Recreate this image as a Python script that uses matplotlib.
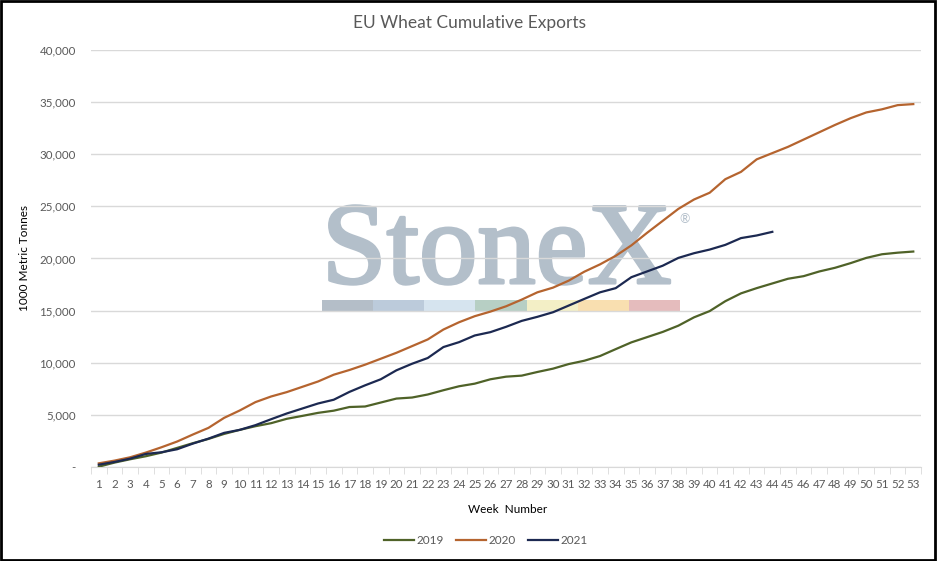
import matplotlib.pyplot as plt
import matplotlib.patheffects as pe
from matplotlib.patches import Rectangle
from matplotlib.ticker import FuncFormatter, MultipleLocator

plt.rcParams['font.family'] = ['Lato', 'DejaVu Sans']

weeks = list(range(1, 54))

exports_2019 = [30, 420, 740, 1030, 1380, 1830, 2280, 2690, 3170, 3560,
                3910, 4200, 4620, 4900, 5190, 5400, 5750, 5800, 6180, 6560,
                6660, 6950, 7360, 7740, 7990, 8410, 8660, 8760, 9110, 9430,
                9870, 10190, 10640, 11300, 11950, 12450, 12950, 13550, 14350, 14950,
                15900, 16650, 17150, 17600, 18050, 18300, 18750, 19100, 19550, 20050,
                20400, 20550, 20660]

exports_2020 = [350, 610, 930, 1380, 1890, 2440, 3110, 3750, 4710, 5420,
                6220, 6760, 7180, 7690, 8200, 8850, 9300, 9810, 10380, 10950,
                11590, 12230, 13180, 13880, 14460, 14900, 15410, 16050, 16750, 17200,
                17870, 18730, 19430, 20250, 21250, 22450, 23600, 24750, 25650, 26300,
                27600, 28300, 29500, 30100, 30700, 31400, 32100, 32800, 33450, 34000,
                34300, 34700, 34800]

exports_2021 = [220, 480, 800, 1250, 1410, 1700, 2240, 2720, 3270, 3560,
                4010, 4580, 5130, 5610, 6090, 6450, 7200, 7830, 8410, 9270,
                9900, 10450, 11500, 11970, 12610, 12930, 13440, 14010, 14400, 14840,
                15480, 16120, 16750, 17150, 18200, 18750, 19300, 20050, 20500, 20850,
                21300, 21950, 22200, 22550]

series = [("2019", exports_2019, "#4f6228"),
          ("2020", exports_2020, "#b5642f"),
          ("2021", exports_2021, "#1c2951")]

fig = plt.figure(figsize=(9.38, 5.61), dpi=100)
ax = fig.add_axes([0.097, 0.1676, 0.885, 0.7435])

# watermark behind the plot
wm = '#b3bfca'
ax.text(0.278, 0.441, "StoneX", transform=ax.transAxes, family='Liberation Serif',
        fontsize=84, color=wm, ha='left', va='baseline', zorder=0.1,
        path_effects=[pe.withStroke(linewidth=2.2, foreground=wm)])
ax.text(0.715, 0.595, "\u00ae", transform=ax.transAxes, fontsize=9,
        color=wm, ha='center', va='center', zorder=0.1)
band_colors = ['#b4bec8', '#bccbdb', '#d6e4ef', '#b7cfc4', '#f3efc6', '#f9dfb0', '#e5bcbd']
for i, c in enumerate(band_colors):
    ax.add_patch(Rectangle((0.2783 + i * 0.0616, 0.3717), 0.0616, 0.0288,
                           transform=ax.transAxes, facecolor=c, edgecolor='none',
                           zorder=0.1))

for name, vals, col in series:
    ax.plot(weeks[:len(vals)], vals, color=col, lw=1.6, label=name, zorder=3)

ax.set_xlim(0.5, 53.5)
ax.set_ylim(0, 40000)
ax.set_axisbelow(True)
ax.yaxis.set_major_locator(MultipleLocator(5000))
ax.yaxis.set_major_formatter(FuncFormatter(lambda v, p: '-' if v == 0 else f'{v:,.0f}'))
ax.grid(axis='y', color='#d9d9d9', lw=1)
ax.set_xticks(weeks)
ax.set_xticks([w + 0.5 for w in range(0, 54)], minor=True)
ax.tick_params(axis='x', which='major', length=0, pad=9, labelsize=8.3, colors='#595959')
ax.tick_params(axis='x', which='minor', length=5, color='#d9d9d9')
ax.tick_params(axis='y', length=0, pad=11, labelsize=8.3, colors='#595959')

for s in ['top', 'right', 'left']:
    ax.spines[s].set_visible(False)
ax.spines['bottom'].set_color('#d9d9d9')

ax.set_xlabel("Week  Number", fontsize=8.5, color='black')
ax.xaxis.set_label_coords(0.502, -0.089)
ax.set_ylabel("1000 Metric Tonnes", fontsize=8.5, color='black')
ax.yaxis.set_label_coords(-0.0735, 0.5)

fig.suptitle("EU Wheat Cumulative Exports", y=0.974, fontsize=12.5, color='#595959')

fig.legend(loc='center', bbox_to_anchor=(0.518, 0.036), ncol=3, frameon=False,
           fontsize=8.5, handlelength=2.5, columnspacing=1.1, handletextpad=0.2,
           labelcolor='#595959')

fig.patches.append(Rectangle((0.001, 0.002), 0.996, 0.996, transform=fig.transFigure,
                             fill=False, edgecolor='black', lw=2))

fig.savefig("out.png", dpi=100)
